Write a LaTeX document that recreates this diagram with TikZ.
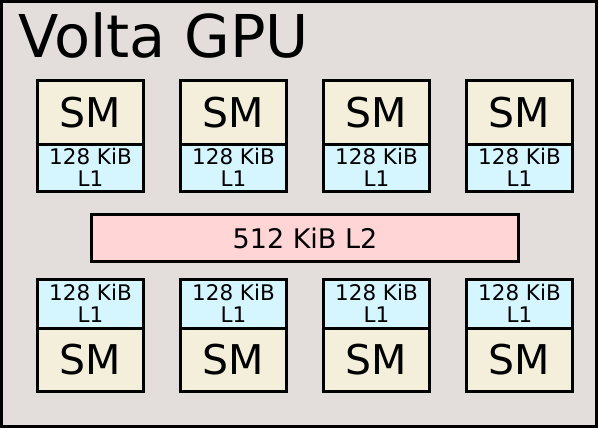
\documentclass[tikz,border=0pt]{standalone}
\usepackage{fontspec}
\setmainfont{DejaVu Sans}
\definecolor{gpubg}{HTML}{E3DEDB}
\definecolor{smfill}{HTML}{F4EFDA}
\definecolor{lonefill}{HTML}{D5F6FF}
\definecolor{ltwofill}{HTML}{FFD5D5}
\begin{document}
\begin{tikzpicture}[x=1pt,y=-1pt,
  smbox/.style={draw=black, line width=3pt, fill=smfill, rectangle, inner sep=0pt, outer sep=0pt,
    minimum width=106pt, minimum height=63.5pt, font=\fontsize{41}{41}\selectfont},
  l1box/.style={draw=black, line width=3pt, fill=lonefill, rectangle, inner sep=0pt, outer sep=0pt,
    minimum width=106pt, minimum height=48pt, align=center,
    font=\fontsize{21.5}{22}\selectfont},
  l2box/.style={draw=black, line width=3pt, fill=ltwofill, rectangle, inner sep=0pt, outer sep=0pt,
    minimum width=427pt, minimum height=47pt, font=\fontsize{27}{27}\selectfont},
  gpubox/.style={draw=black, line width=3pt, fill=gpubg}]
\useasboundingbox (0,0) rectangle (600,429);
\draw[gpubox] (1.5,1.5) rectangle (596.5,426.5);
\node[anchor=base west, inner sep=0pt, font=\fontsize{59}{59}\selectfont] (title) at (18,57) {Volta GPU};
% top row
\foreach \i/\x in {1/90.5, 2/233.5, 3/376.5, 4/519.5} {
  \node[smbox, anchor=north] (smt\i) at (\x,80.5) {SM};
  \node[l1box, anchor=north, minimum height=47.5pt] (l1t\i) at (smt\i.south) {128 KiB\\L1};
}
% L2
\node[l2box] (l2) at (305,238) {512 KiB L2};
% bottom row
\foreach \i/\x in {1/90.5, 2/233.5, 3/376.5, 4/519.5} {
  \node[l1box, anchor=north, minimum height=48.5pt] (l1b\i) at (\x,279.5) {128 KiB\\L1};
  \node[smbox, anchor=north] (smb\i) at (l1b\i.south) {SM};
}
\end{tikzpicture}
\end{document}
